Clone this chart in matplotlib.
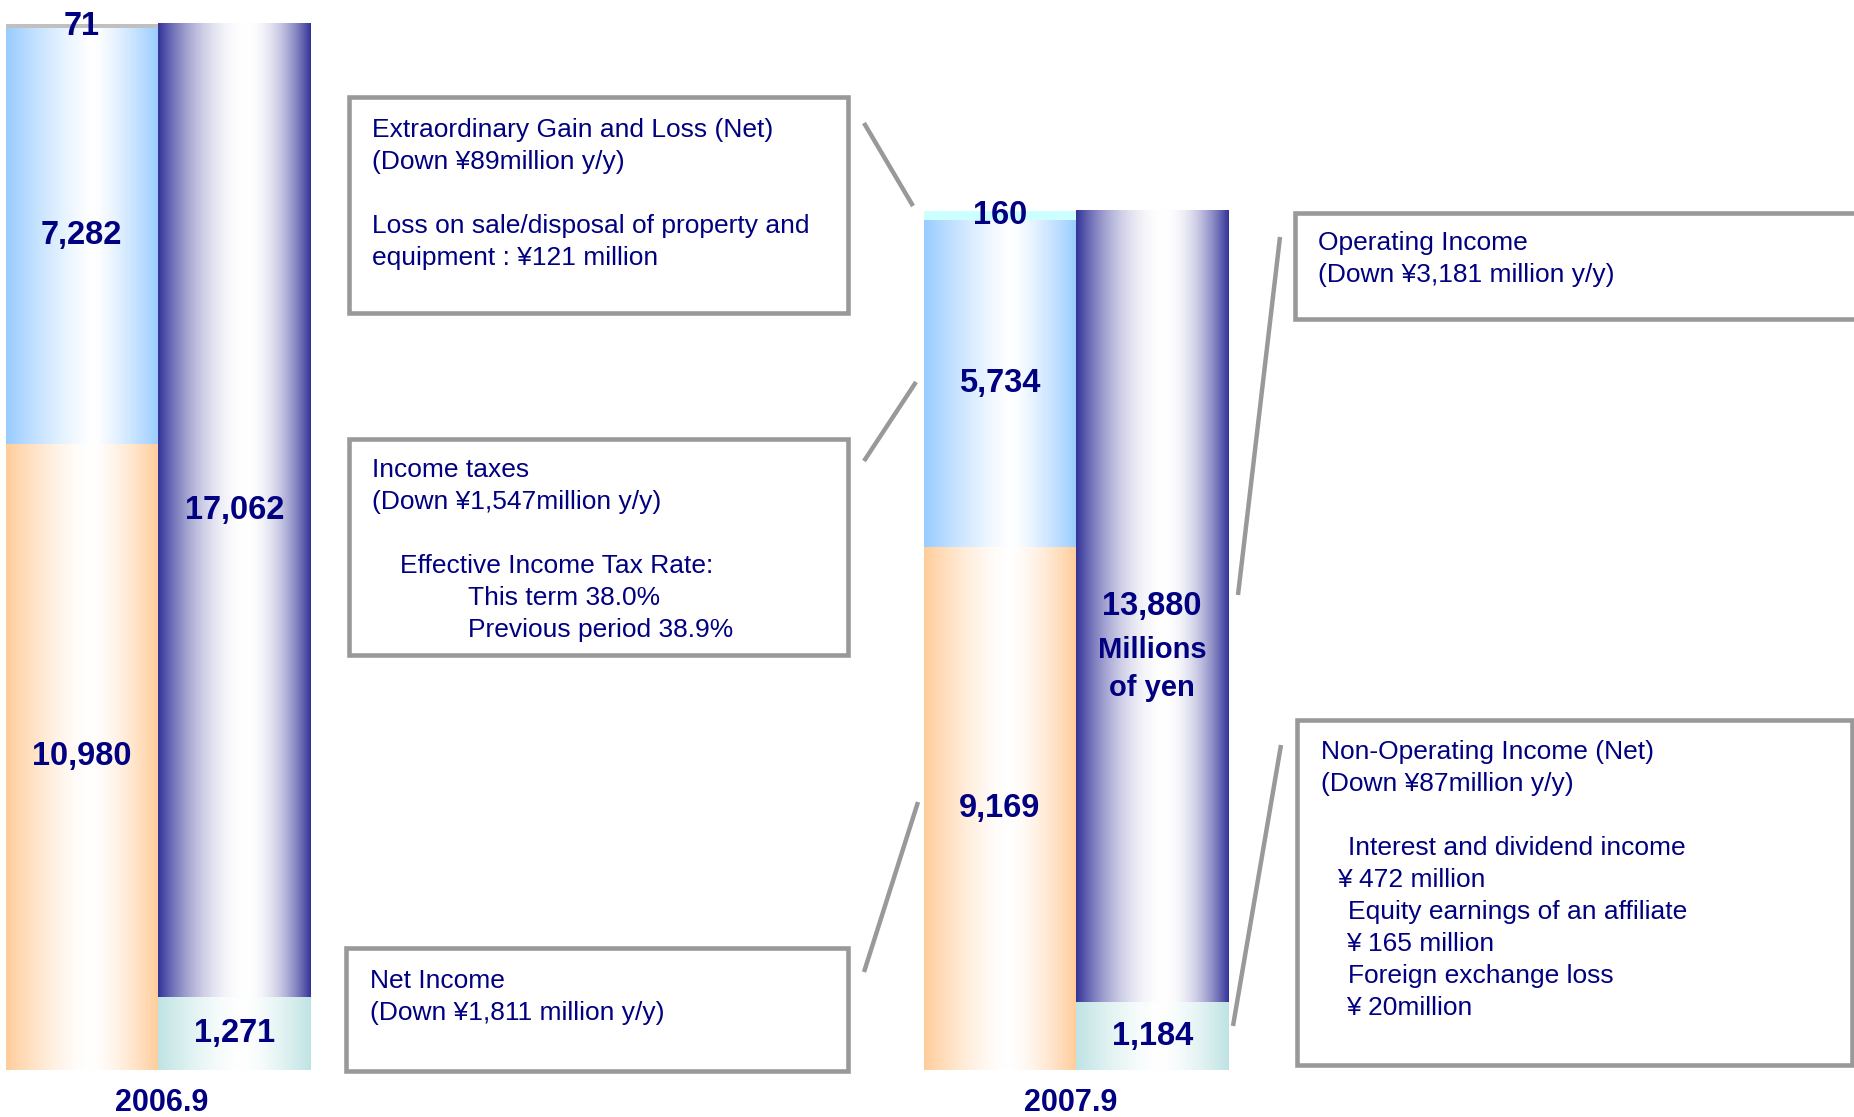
import matplotlib.pyplot as plt
import matplotlib.patches as mpatches
import numpy as np
from matplotlib.colors import to_rgb

plt.rcParams['font.family'] = ['Liberation Sans', 'DejaVu Sans']

periods = ['2006.9', '2007.9']
net_income = [10980, 9169]
income_taxes = [7282, 5734]
extraordinary = [71, 160]
non_operating = [1271, 1184]
operating = [17062, 13880]

NAVY = '#000080'
GREY = '#999999'


def gradient(edge, c=0.55, p=1.5, n=256):
    t = np.linspace(0, 1, n)
    d = np.where(t < c, (c - t) / c, (t - c) / (1 - c))
    w = 1 - d ** p
    e = np.array(to_rgb(edge))
    img = e[None, :] * (1 - w[:, None]) + w[:, None]
    return img[None, :, :]


def fill(ax, bars, edge, c=0.55, p=1.5):
    for r in bars:
        x0, y0 = r.get_x(), r.get_y()
        x1, y1 = x0 + r.get_width(), y0 + r.get_height()
        r.set_facecolor('none')
        ax.imshow(gradient(edge, c, p), extent=[x0, x1, y0, y1],
                  aspect='auto', zorder=1, interpolation='bilinear')


fig = plt.figure(figsize=(18.54, 11.17), dpi=100)
ax = fig.add_axes([0, 47 / 1117, 1, 1070 / 1117])

idx = np.arange(len(periods))
w = 0.166
total = net_income[0] + income_taxes[0] + extraordinary[0]

b1 = ax.bar(idx - w / 2, net_income, w, linewidth=0, zorder=2)
b2 = ax.bar(idx - w / 2, income_taxes, w, bottom=net_income, linewidth=0, zorder=2)
bottom3 = np.array(net_income) + np.array(income_taxes)
b3 = ax.bar(idx - w / 2, extraordinary, w, bottom=bottom3, linewidth=0, zorder=2)
b4 = ax.bar(idx + w / 2, non_operating, w, linewidth=0, zorder=2)
b5 = ax.bar(idx + w / 2, operating, w, bottom=non_operating, linewidth=0, zorder=2)

fill(ax, b1, '#ffcc99', 0.55, 1.5)
fill(ax, b2, '#99ccff', 0.57, 1.3)
b3[0].set_facecolor('#c0c0c0')
b3[1].set_facecolor('#ccffff')
fill(ax, b4, '#bfe3e3', 0.55, 1.5)
fill(ax, b5, '#333399', 0.58, 2.0)

ax.set_xlim(-158 / 918, (1854 - 158) / 918)
ax.set_ylim(0, total * 1070 / 1046)
for s in ax.spines.values():
    s.set_visible(False)
ax.set_yticks([])
ax.set_xticks(idx + np.array([0.004, -0.006]))
ax.set_xticklabels(periods, fontsize=22, fontweight='bold', color=NAVY)
ax.tick_params(axis='x', length=0, pad=13)

vkw = dict(ha='center', va='center', fontsize=23.5, fontweight='bold', color=NAVY, zorder=5)
for bars, vals in [(b1, net_income), (b2, income_taxes), (b3, extraordinary),
                   (b4, non_operating), (b5, operating)]:
    for r, v in zip(bars, vals):
        ax.text(r.get_x() + r.get_width() / 2, r.get_y() + r.get_height() / 2,
                f'{v:,}', **vkw)

# unit note under the 2007 operating income value
r = b5[1]
cx, cy = r.get_x() + r.get_width() / 2, r.get_y() + r.get_height() / 2
for off, txt in [(-31.5, 'Millions'), (-59, 'of yen')]:
    ax.annotate(txt, (cx, cy), xytext=(0, off), textcoords='offset points',
                ha='center', va='center', fontsize=21, fontweight='bold',
                color=NAVY, zorder=5,
                family=['Liberation Sans Narrow', 'Liberation Sans'])

# overlay in pixel coordinates for the callout boxes
ov = fig.add_axes([0, 0, 1, 1], zorder=3)
ov.set_xlim(0, 1854)
ov.set_ylim(1117, 0)
ov.axis('off')
ov.patch.set_alpha(0)

boxes = [
    (349, 97, 848, 313),
    (349, 439, 848, 655),
    (346, 948, 848, 1071),
    (1295, 213, 1870, 319),
    (1297, 720, 1852, 1065),
]
for x0, y0, x1, y1 in boxes:
    ov.add_patch(mpatches.Rectangle((x0, y0), x1 - x0, y1 - y0, facecolor='white',
                                    edgecolor=GREY, linewidth=3.3))

lines = [
    ((864, 123), (913, 206)),
    ((864, 461), (916, 382)),
    ((864, 972), (918, 802)),
    ((1238, 595), (1280, 237)),
    ((1233, 1026), (1281, 745)),
]
for (xa, ya), (xb, yb) in lines:
    ov.plot([xa, xb], [ya, yb], color=GREY, linewidth=3.2, solid_capstyle='butt')

notes = [
    (372, 130, [(0, 'Extraordinary Gain and Loss (Net)'), (0, '(Down ¥89million y/y)'), (0, ''),
                (0, 'Loss on sale/disposal of property and'), (0, 'equipment : ¥121 million')]),
    (372, 470, [(0, 'Income taxes'), (0, '(Down ¥1,547million y/y)'), (0, ''),
                (28, 'Effective Income Tax Rate:'), (96, 'This term 38.0%'),
                (96, 'Previous period 38.9%')]),
    (370, 981, [(0, 'Net Income'), (0, '(Down ¥1,811 million y/y)')]),
    (1318, 243, [(0, 'Operating Income'), (0, '(Down ¥3,181 million y/y)')]),
    (1321, 752, [(0, 'Non-Operating Income (Net)'), (0, '(Down ¥87million y/y)'), (0, ''),
                 (27, 'Interest and dividend income'), (16, '¥ 472 million'),
                 (27, 'Equity earnings of an affiliate'), (25, '¥ 165 million'),
                 (27, 'Foreign exchange loss'), (25, '¥ 20million')]),
]
pitch = 32
for x, y, rows in notes:
    for i, (dx, txt) in enumerate(rows):
        ov.text(x + dx, y + i * pitch, txt, ha='left', va='center', fontsize=19, color=NAVY)

plt.savefig('out.png', dpi=100)
